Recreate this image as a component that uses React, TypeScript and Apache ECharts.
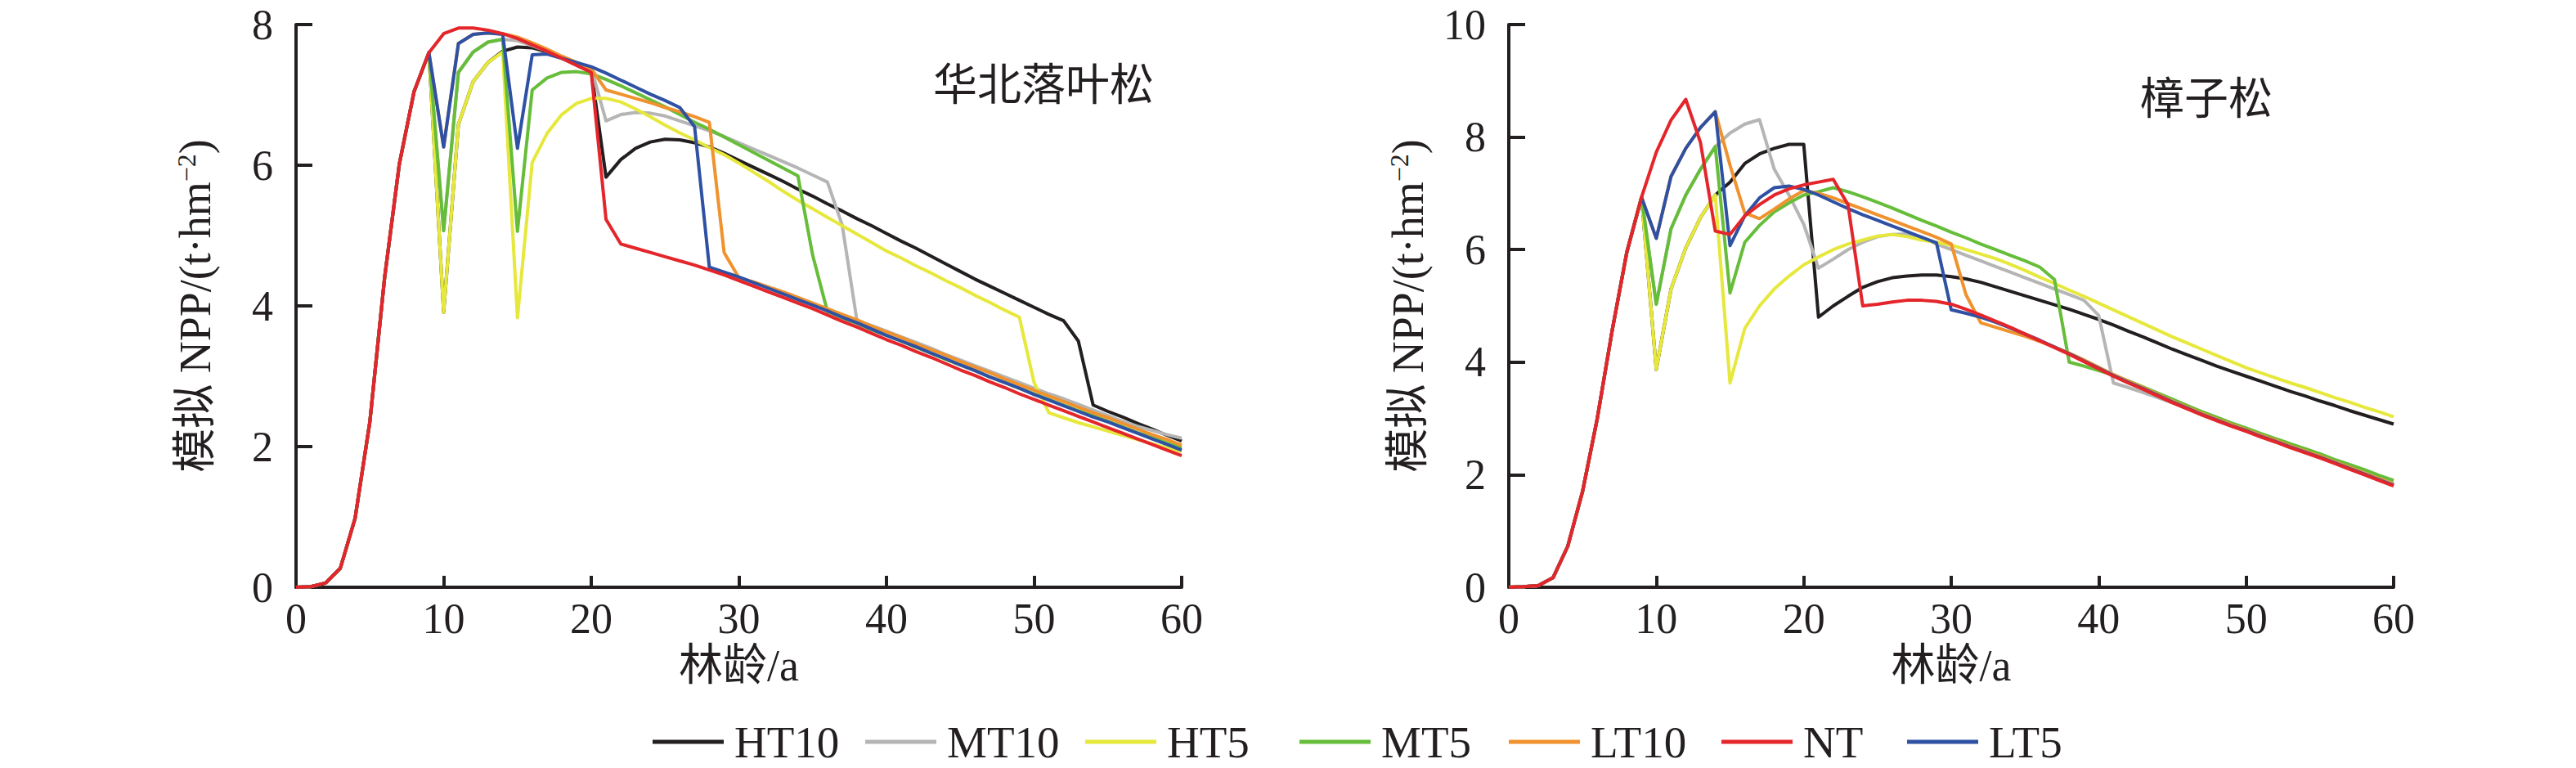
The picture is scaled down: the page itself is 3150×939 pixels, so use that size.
import React, { useEffect, useRef } from 'react';
import * as echarts from 'echarts';

const YEARS = [0,1,2,3,4,5,6,7,8,9,10,11,12,13,14,15,16,17,18,19,20,21,22,23,24,25,26,27,28,29,30,31,32,33,34,35,36,37,38,39,40,41,42,43,44,45,46,47,48,49,50,51,52,53,54,55,56,57,58,59,60];

const X_TICKS = [0, 10, 20, 30, 40, 50, 60];
const Y_TICKS_LEFT = [0, 2, 4, 6, 8];
const Y_TICKS_RIGHT = [0, 2, 4, 6, 8, 10];

const PANEL_TITLES = ['华北落叶松', '樟子松'];
const X_NAME = '林龄/a';
const LEGEND_ORDER = ['HT10', 'MT10', 'HT5', 'MT5', 'LT10', 'NT', 'LT5'];
const DRAW_ORDER = ['HT10', 'MT10', 'HT5', 'MT5', 'LT10', 'LT5', 'NT'];

// ---------- 华北落叶松 (left panel) ----------
const L_HT10 = [0,0.01,0.06,0.27,0.98,2.35,4.4,6.02,7.05,7.6,3.91,6.58,7.19,7.46,7.62,7.68,7.67,7.61,7.52,7.43,7.34,5.83,6.08,6.24,6.33,6.37,6.36,6.32,6.26,6.17,6.07,5.97,5.87,5.77,5.66,5.56,5.45,5.35,5.24,5.14,5.03,4.92,4.82,4.71,4.6,4.49,4.38,4.28,4.18,4.08,3.98,3.88,3.79,3.5,2.59,2.5,2.42,2.33,2.25,2.16,2.08];
const L_MT10 = [0,0.01,0.06,0.27,0.98,2.35,4.4,6.02,7.05,7.6,5.07,7.32,7.61,7.75,7.79,7.77,7.7,7.62,7.54,7.46,7.38,6.63,6.72,6.75,6.74,6.7,6.63,6.56,6.49,6.41,6.32,6.23,6.14,6.05,5.96,5.86,5.76,5.15,3.79,3.72,3.64,3.56,3.48,3.4,3.31,3.23,3.15,3.07,2.99,2.91,2.83,2.75,2.68,2.6,2.52,2.44,2.36,2.29,2.23,2.17,2.12];
const L_HT5 = [0,0.01,0.06,0.27,0.98,2.35,4.4,6.02,7.05,7.6,3.91,6.58,7.19,7.46,7.61,3.83,6.04,6.45,6.72,6.88,6.95,6.95,6.9,6.8,6.69,6.57,6.46,6.36,6.25,6.15,6.03,5.9,5.77,5.63,5.5,5.38,5.26,5.14,5.02,4.9,4.78,4.68,4.57,4.47,4.36,4.26,4.15,4.05,3.94,3.84,2.91,2.48,2.41,2.34,2.28,2.22,2.16,2.1,2.04,1.98,1.93];
const L_MT5 = [0,0.01,0.06,0.27,0.98,2.35,4.4,6.02,7.05,7.6,5.07,7.32,7.61,7.75,7.79,5.06,7.07,7.24,7.32,7.33,7.3,7.22,7.13,7.03,6.93,6.83,6.72,6.61,6.51,6.4,6.29,6.18,6.07,5.96,5.85,4.72,3.92,3.83,3.75,3.66,3.58,3.5,3.41,3.33,3.24,3.16,3.08,2.99,2.91,2.83,2.75,2.67,2.59,2.51,2.44,2.36,2.28,2.2,2.13,2.05,1.98];
const L_LT10 = [0,0.01,0.06,0.27,0.98,2.35,4.4,6.02,7.05,7.6,6.26,7.73,7.86,7.88,7.87,7.82,7.74,7.65,7.55,7.46,7.37,7.07,7.01,6.95,6.89,6.82,6.76,6.69,6.61,4.76,4.4,4.34,4.27,4.2,4.12,4.04,3.96,3.88,3.8,3.71,3.63,3.55,3.46,3.38,3.3,3.21,3.13,3.05,2.96,2.88,2.8,2.72,2.64,2.56,2.48,2.41,2.33,2.25,2.17,2.1,2.02];
const L_NT = [0,0.01,0.06,0.27,0.98,2.35,4.4,6.02,7.05,7.6,7.87,7.95,7.95,7.92,7.87,7.8,7.71,7.62,7.52,7.42,7.32,5.23,4.88,4.82,4.76,4.7,4.64,4.58,4.51,4.44,4.36,4.28,4.2,4.12,4.04,3.96,3.87,3.78,3.7,3.61,3.52,3.44,3.35,3.27,3.18,3.09,3.01,2.92,2.84,2.75,2.67,2.59,2.51,2.43,2.35,2.27,2.19,2.11,2.03,1.95,1.87];
const L_LT5 = [0,0.01,0.06,0.27,0.98,2.35,4.4,6.02,7.05,7.6,6.26,7.73,7.86,7.88,7.86,6.24,7.57,7.58,7.52,7.46,7.4,7.31,7.21,7.11,7.01,6.92,6.82,6.55,4.55,4.48,4.41,4.33,4.25,4.17,4.09,4.01,3.93,3.84,3.76,3.67,3.58,3.5,3.42,3.33,3.25,3.16,3.08,2.99,2.91,2.83,2.74,2.66,2.58,2.5,2.42,2.35,2.27,2.19,2.11,2.03,1.95];

// ---------- 樟子松 (right panel) ----------
const R_HT10 = [0,0.01,0.03,0.17,0.73,1.7,3.0,4.55,5.95,6.93,3.87,5.3,6.03,6.57,6.97,7.2,7.53,7.7,7.8,7.87,7.87,4.8,5.0,5.17,5.33,5.43,5.5,5.53,5.55,5.55,5.52,5.48,5.42,5.34,5.26,5.18,5.1,5.02,4.94,4.85,4.76,4.66,4.55,4.45,4.34,4.23,4.13,4.03,3.93,3.84,3.75,3.66,3.57,3.48,3.4,3.31,3.23,3.14,3.06,2.98,2.9];
const R_MT10 = [0,0.01,0.03,0.17,0.73,1.7,3.0,4.55,5.95,6.93,5.03,6.37,6.97,7.43,7.83,8.07,8.23,8.31,7.43,6.97,6.45,5.67,5.83,6.0,6.13,6.23,6.27,6.28,6.22,6.1,6.0,5.9,5.8,5.7,5.6,5.5,5.4,5.3,5.2,5.1,4.83,3.63,3.55,3.46,3.37,3.28,3.18,3.07,2.97,2.87,2.78,2.68,2.59,2.5,2.41,2.32,2.22,2.12,2.03,1.93,1.84];
const R_HT5 = [0,0.01,0.03,0.17,0.73,1.7,3.0,4.55,5.95,6.93,3.87,5.3,6.03,6.57,6.97,3.63,4.6,5.0,5.3,5.53,5.73,5.87,6.0,6.1,6.17,6.24,6.27,6.23,6.17,6.13,6.08,6.0,5.92,5.84,5.74,5.63,5.51,5.4,5.28,5.17,5.05,4.93,4.81,4.69,4.57,4.45,4.34,4.23,4.12,4.01,3.9,3.81,3.72,3.63,3.55,3.46,3.37,3.29,3.2,3.12,3.03];
const R_MT5 = [0,0.01,0.03,0.17,0.73,1.7,3.0,4.55,5.95,6.93,5.03,6.37,6.97,7.43,7.83,5.23,6.13,6.43,6.67,6.83,6.97,7.03,7.1,7.03,6.94,6.84,6.74,6.63,6.52,6.42,6.31,6.21,6.1,6.0,5.9,5.8,5.69,5.47,4.0,3.93,3.85,3.77,3.67,3.56,3.45,3.34,3.23,3.12,3.02,2.92,2.83,2.73,2.64,2.55,2.46,2.37,2.27,2.18,2.09,1.99,1.9];
const R_LT10 = [0,0.01,0.03,0.17,0.73,1.7,3.0,4.55,5.95,6.93,6.2,7.3,7.8,8.17,8.45,7.5,6.65,6.55,6.72,6.9,7.05,7.0,6.92,6.82,6.72,6.62,6.52,6.42,6.32,6.22,6.1,5.2,4.7,4.62,4.54,4.46,4.37,4.27,4.16,4.04,3.91,3.78,3.66,3.55,3.43,3.31,3.2,3.09,2.99,2.89,2.8,2.7,2.61,2.51,2.42,2.33,2.23,2.13,2.03,1.93,1.83];
const R_NT = [0,0.01,0.03,0.17,0.73,1.7,3.0,4.55,5.95,6.93,7.73,8.3,8.67,7.9,6.33,6.27,6.6,6.8,6.97,7.08,7.15,7.2,7.25,6.8,5.0,5.03,5.07,5.1,5.1,5.08,5.03,4.94,4.84,4.73,4.62,4.5,4.38,4.26,4.14,4.01,3.88,3.75,3.63,3.52,3.4,3.28,3.17,3.06,2.96,2.86,2.77,2.67,2.58,2.48,2.39,2.3,2.2,2.1,2.0,1.9,1.8];
const R_LT5 = [0,0.01,0.03,0.17,0.73,1.7,3.0,4.55,5.95,6.93,6.2,7.3,7.8,8.17,8.45,6.07,6.6,6.92,7.1,7.13,7.07,6.97,6.85,6.73,6.62,6.52,6.42,6.32,6.22,6.12,4.93,4.87,4.8,4.71,4.61,4.5,4.39,4.27,4.15,4.02,3.89,3.76,3.64,3.53,3.41,3.29,3.18,3.07,2.97,2.87,2.78,2.68,2.59,2.49,2.4,2.31,2.21,2.11,2.01,1.91,1.81];

const LEFT_DATA: Record<string, number[]> = { HT10: L_HT10, MT10: L_MT10, HT5: L_HT5, MT5: L_MT5, LT10: L_LT10, NT: L_NT, LT5: L_LT5 };
const RIGHT_DATA: Record<string, number[]> = { HT10: R_HT10, MT10: R_MT10, HT5: R_HT5, MT5: R_MT5, LT10: R_LT10, NT: R_NT, LT5: R_LT5 };

const COLORS: Record<string, string> = {
  HT10: '#231f20',
  MT10: '#b5b5b5',
  HT5: '#e6e83c',
  MT5: '#66bd3a',
  LT10: '#f0922e',
  NT: '#e4262b',
  LT5: '#2f51a3',
};

const LEGEND_LEFTS = [798, 1058, 1327, 1589, 1845, 2105, 2332];

const INK = '#231f20';
const LATIN = "'Liberation Serif', 'Times New Roman', 'Noto Sans CJK SC', serif";
const CJK = "'Liberation Serif', 'Noto Sans CJK SC', serif";

function makeX(gridIndex: number) {
  return {
    type: 'value',
    gridIndex,
    min: X_TICKS[0],
    max: X_TICKS[X_TICKS.length - 1],
    interval: X_TICKS[1] - X_TICKS[0],
    name: X_NAME,
    nameLocation: 'middle',
    nameGap: 66,
    nameTextStyle: { fontSize: 54, fontFamily: CJK, color: INK },
    axisLine: { show: true, lineStyle: { color: INK, width: 4 } },
    axisTick: { show: true, inside: true, length: 14, lineStyle: { color: INK, width: 4 } },
    axisLabel: { fontSize: 52, fontFamily: LATIN, color: INK, margin: 12 },
    splitLine: { show: false },
  };
}

function makeY(gridIndex: number, ticks: number[]) {
  return {
    type: 'value',
    gridIndex,
    min: ticks[0],
    max: ticks[ticks.length - 1],
    interval: ticks[1] - ticks[0],
    name: '{a|模拟 NPP/(t·hm}{sup|−2}{a|)}',
    nameLocation: 'middle',
    nameGap: 96,
    nameTextStyle: {
      fontSize: 54,
      fontFamily: CJK,
      color: INK,
      rich: {
        a: { fontSize: 54, fontFamily: CJK, color: INK },
        sup: { fontSize: 32, fontFamily: LATIN, color: INK, verticalAlign: 'top' },
      },
    },
    axisLine: { show: true, lineStyle: { color: INK, width: 4 } },
    axisTick: { show: true, inside: true, length: 20, lineStyle: { color: INK, width: 4 } },
    axisLabel: { fontSize: 52, fontFamily: LATIN, color: INK, margin: 28 },
    splitLine: { show: false },
  };
}

function makeSeries(data: Record<string, number[]>, idx: number) {
  return DRAW_ORDER.map((name) => ({
    type: 'line',
    name,
    xAxisIndex: idx,
    yAxisIndex: idx,
    data: YEARS.map((yr, i) => [yr, data[name][i]]),
    showSymbol: false,
    symbol: 'none',
    smooth: false,
    lineStyle: { color: COLORS[name], width: 4, join: 'round' },
    itemStyle: { color: COLORS[name] },
    emphasis: { disabled: true },
  }));
}

export default function App() {
  const ref = useRef<HTMLDivElement>(null);
  useEffect(() => {
    if (!ref.current) return;
    const chart = echarts.init(ref.current, undefined, { renderer: 'svg' });
    const option: any = {
      animation: false,
      backgroundColor: '#ffffff',
      grid: [
        { left: 362, right: 3150 - 1445, top: 30, bottom: 939 - 718, containLabel: false },
        { left: 1845, right: 3150 - 2927, top: 30, bottom: 939 - 718, containLabel: false },
      ],
      xAxis: [makeX(0), makeX(1)],
      yAxis: [makeY(0, Y_TICKS_LEFT), makeY(1, Y_TICKS_RIGHT)],
      legend: LEGEND_ORDER.map((name, i) => ({
        data: [{ name, icon: 'rect', itemStyle: { color: COLORS[name] } }],
        left: LEGEND_LEFTS[i],
        top: 877,
        padding: 0,
        itemWidth: 87,
        itemHeight: 5,
        selectedMode: false,
        textStyle: { fontSize: 55, fontFamily: LATIN, color: INK, lineHeight: 60, padding: [0, 0, 0, 8] },
      })),
      graphic: [
        {
          type: 'text',
          left: 1141,
          top: 72,
          style: { text: PANEL_TITLES[0], fontSize: 54, fontFamily: "'Noto Sans CJK SC', serif", fill: INK },
        },
        {
          type: 'text',
          left: 2617,
          top: 89,
          style: { text: PANEL_TITLES[1], fontSize: 54, fontFamily: "'Noto Sans CJK SC', serif", fill: INK },
        },
      ],
      series: [...makeSeries(LEFT_DATA, 0), ...makeSeries(RIGHT_DATA, 1)],
    };
    chart.setOption(option);
    return () => chart.dispose();
  }, []);
  return (
    <div
      ref={ref}
      style={{ position: 'fixed', left: 0, top: 0, width: 3150, height: 939, background: '#fff' }}
    />
  );
}
